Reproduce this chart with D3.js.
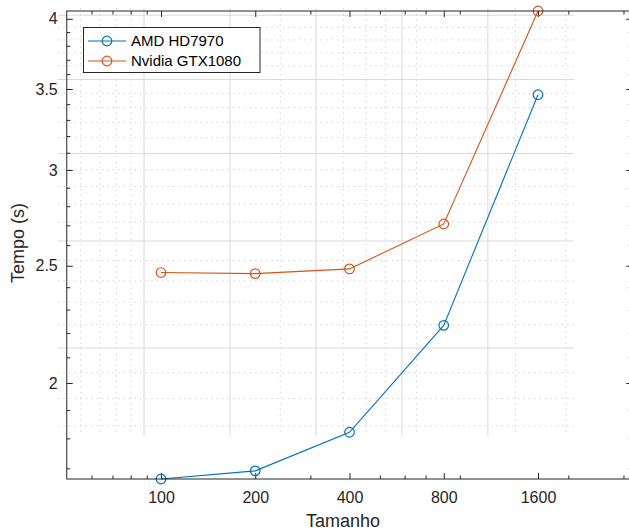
<!DOCTYPE html>
<html>
<head>
<meta charset="utf-8">
<script src="https://cdn.jsdelivr.net/npm/d3@7"></script>
<style>
  html, body { margin: 0; padding: 0; background: #ffffff; }
  svg { display: block; }
  text { font-family: "Liberation Sans", Arial, Helvetica, sans-serif; }
</style>
</head>
<body>
<svg id="chart" width="629" height="531"></svg>
<script>
// ---- data ----
const sizes = [100, 200, 400, 800, 1600];
const amd = [1.666, 1.692, 1.821, 2.232, 3.462];
const nvidia = [2.468, 2.463, 2.485, 2.707, 4.06];
const seriesNames = ["AMD HD7970", "Nvidia GTX1080"];
const xTicks = [100, 200, 400, 800, 1600];
const xMinor = [60, 70, 80, 90, 300, 500, 600, 700, 900, 2000, 3000];
const yTicks = [2, 2.5, 3, 3.5, 4];
const yMinor = [1.7, 1.8, 1.9, 2.1, 2.2, 2.3, 2.4, 2.6, 2.7, 2.8, 2.9, 3.1, 3.2, 3.3, 3.4, 3.6, 3.7, 3.8, 3.9];
const xLabel = "Tamanho";
const yLabel = "Tempo (s)";

// ---- layout ----
const L = 66.75, R = 632.25, T = 11, B = 479;
const colors = ["#0072BD", "#D95319"];
const axisColor = "#262626";

const svg = d3.select("#chart");
const x = d3.scaleLog().domain([50, 3200]).range([L, R]);
const allVals = amd.concat(nvidia);
const y = d3.scaleLog().domain(d3.extent(allVals)).range([B, T]);

// ---- grid (rendered slightly offset/scaled, as in the original) ----
const grid = svg.append("g")
  .attr("transform", "translate(-2.8,-1.9) scale(0.912,0.9136)");
grid.selectAll("line.xminor").data(xMinor).join("line")
  .attr("x1", d => x(d)).attr("x2", d => x(d)).attr("y1", T).attr("y2", B)
  .attr("stroke", "#cfcfcf").attr("stroke-width", 1).attr("stroke-dasharray", "1.6 4.4");
grid.selectAll("line.yminor").data(yMinor).join("line")
  .attr("y1", d => y(d)).attr("y2", d => y(d)).attr("x1", L).attr("x2", R)
  .attr("stroke", "#cfcfcf").attr("stroke-width", 1).attr("stroke-dasharray", "1.6 4.4");
grid.selectAll("line.xmaj").data(xTicks).join("line")
  .attr("x1", d => x(d)).attr("x2", d => x(d)).attr("y1", T).attr("y2", B)
  .attr("stroke", "#dadada").attr("stroke-width", 1.1);
grid.selectAll("line.ymaj").data(yTicks).join("line")
  .attr("y1", d => y(d)).attr("y2", d => y(d)).attr("x1", L).attr("x2", R)
  .attr("stroke", "#dadada").attr("stroke-width", 1.1);

// ---- axes ----
function styleAxis(g) {
  g.select(".domain").remove();
  g.selectAll(".tick line").attr("stroke", axisColor).attr("stroke-width", 1);
  g.selectAll(".tick text").attr("fill", axisColor).style("font-size", "16px")
    .style("font-family", '"Liberation Sans", Arial, Helvetica, sans-serif');
}
svg.append("g").attr("transform", `translate(0,${B})`)
  .call(d3.axisBottom(x).tickValues(xTicks).tickFormat(d3.format("d")).tickSize(-6).tickPadding(13))
  .call(styleAxis);
svg.append("g").attr("transform", `translate(0,${B})`)
  .call(d3.axisBottom(x).tickValues(xMinor).tickFormat("").tickSize(-3.5)).call(styleAxis);
svg.append("g").attr("transform", `translate(0,${T})`)
  .call(d3.axisTop(x).tickValues(xTicks).tickFormat("").tickSize(-6)).call(styleAxis);
svg.append("g").attr("transform", `translate(0,${T})`)
  .call(d3.axisTop(x).tickValues(xMinor).tickFormat("").tickSize(-3.5)).call(styleAxis);

svg.append("g").attr("transform", `translate(${L},0)`)
  .call(d3.axisLeft(y).tickValues(yTicks).tickFormat(d => String(d)).tickSize(-6).tickPadding(9))
  .call(styleAxis);
svg.append("g").attr("transform", `translate(${L},0)`)
  .call(d3.axisLeft(y).tickValues(yMinor).tickFormat("").tickSize(-3.5)).call(styleAxis);
svg.append("g").attr("transform", `translate(${R},0)`)
  .call(d3.axisRight(y).tickValues(yTicks).tickFormat("").tickSize(-6)).call(styleAxis);
svg.append("g").attr("transform", `translate(${R},0)`)
  .call(d3.axisRight(y).tickValues(yMinor).tickFormat("").tickSize(-3.5)).call(styleAxis);

// ---- series ----
const series = [amd, nvidia];
const line = d3.line().x((d, i) => x(sizes[i])).y(d => y(d));
series.forEach((vals, si) => {
  svg.append("path").datum(vals)
    .attr("d", line).attr("fill", "none")
    .attr("stroke", colors[si]).attr("stroke-width", 1.1);
  svg.append("g").selectAll("circle").data(vals).join("circle")
    .attr("cx", (d, i) => x(sizes[i])).attr("cy", d => y(d)).attr("r", 4.8)
    .attr("fill", "none").attr("stroke", colors[si]).attr("stroke-width", 1.2);
});

// ---- box ----
svg.append("rect").attr("x", L).attr("y", T).attr("width", R - L).attr("height", B - T)
  .attr("fill", "none").attr("stroke", axisColor).attr("stroke-width", 1);

// ---- axis labels ----
svg.append("text").attr("x", 343).attr("y", 527).attr("text-anchor", "middle")
  .attr("fill", axisColor).style("font-size", "18px").text(xLabel);
svg.append("text").attr("transform", "translate(23.5,243) rotate(-90)").attr("text-anchor", "middle")
  .attr("fill", axisColor).style("font-size", "18px").text(yLabel);

// ---- legend ----
const lg = svg.append("g");
lg.append("rect").attr("x", 83.5).attr("y", 27.5).attr("width", 176.5).attr("height", 45)
  .attr("fill", "#ffffff").attr("stroke", axisColor).attr("stroke-width", 1);
seriesNames.forEach((name, i) => {
  const cy = 41 + i * 20;
  lg.append("line").attr("x1", 88).attr("x2", 126).attr("y1", cy).attr("y2", cy)
    .attr("stroke", colors[i]).attr("stroke-width", 1.1);
  lg.append("circle").attr("cx", 107).attr("cy", cy).attr("r", 4.8)
    .attr("fill", "none").attr("stroke", colors[i]).attr("stroke-width", 1.2);
  lg.append("text").attr("x", 131).attr("y", cy + 5.3).attr("fill", "#000")
    .style("font-size", "15px").text(name);
});
</script>
</body>
</html>
